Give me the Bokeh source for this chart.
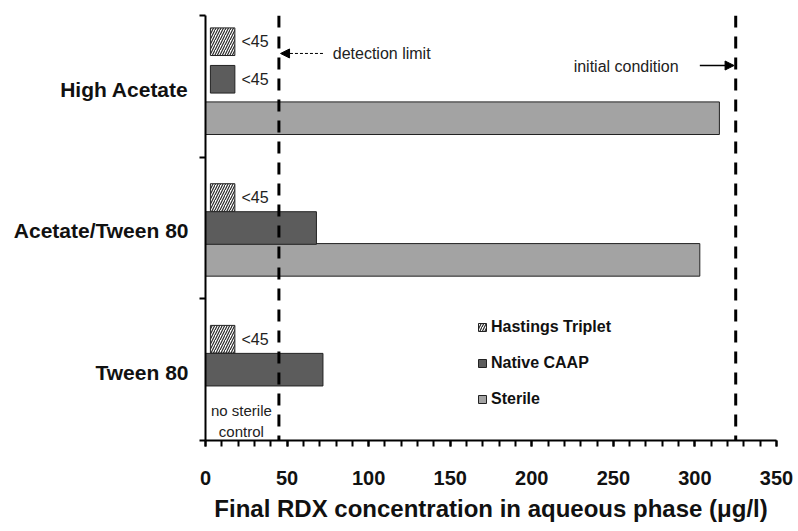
from bokeh.plotting import figure
from bokeh.models import (ColumnDataSource, Span, Arrow, NormalHead, Label, Legend,
                          LegendItem, FixedTicker, SingleIntervalTicker)
from bokeh.core.properties import value
from bokeh.embed import file_html
from bokeh.resources import INLINE

# ---------------- data ----------------
categories = ["Tween 80", "Acetate/Tween 80", "High Acetate"]
# None = below the detection limit (reported as "<45")
hastings_triplet = [None, None, None]
native_caap = [72, 68, None]
# None = no sterile control
sterile = [None, 303, 315]
detection_limit = 45
initial_condition = 325
x_ticks_step = 50
x_max = 350

# ---------------- style / layout ----------------
FONT = "Liberation Sans"
BAR_H = 0.23
BOX_H = 0.195
SLOT = {"sterile": 0.275, "native": 0.50, "hastings": 0.715}
NUDGE = {"native": [0, 0, 0.05], "hastings": [0, 0, 0.10]}
BOX_X0, BOX_X1 = 3, 18
C_STERILE = "#a3a3a3"
C_NATIVE = "#5c5c5c"
C_EDGE = "#222222"

p = figure(width=793, height=530, x_range=(0, x_max), y_range=(0, len(categories)),
           output_backend="svg", toolbar_location=None,
           min_border_left=205, min_border_right=17, min_border_top=15, min_border_bottom=90)
p.outline_line_color = None
p.xgrid.visible = False
p.ygrid.visible = False
p.background_fill_color = "white"


def series_geometry(vals, key):
    left, right, bottom, top, tx, ty, tt = [], [], [], [], [], [], []
    for i, v in enumerate(vals):
        c = i + SLOT[key] + NUDGE.get(key, [0, 0, 0])[i]
        if v is None:
            left.append(BOX_X0); right.append(BOX_X1)
            bottom.append(c - BOX_H / 2); top.append(c + BOX_H / 2)
            tx.append(BOX_X1 + 4); ty.append(c); tt.append(f"<{detection_limit}")
        else:
            left.append(0); right.append(v)
            bottom.append(c - BAR_H / 2); top.append(c + BAR_H / 2)
    bars = ColumnDataSource(dict(left=left, right=right, bottom=bottom, top=top))
    texts = ColumnDataSource(dict(x=tx, y=ty, text=tt))
    return bars, texts


# sterile bars
s_left, s_right, s_bottom, s_top = [], [], [], []
no_ctrl = []
for i, v in enumerate(sterile):
    c = i + SLOT["sterile"]
    if v is None:
        no_ctrl.append(i)
        continue
    s_left.append(0); s_right.append(v)
    s_bottom.append(c - BAR_H / 2); s_top.append(c + BAR_H / 2)
r_sterile = p.quad(left="left", right="right", bottom="bottom", top="top",
                   source=ColumnDataSource(dict(left=s_left, right=s_right, bottom=s_bottom, top=s_top)),
                   fill_color=C_STERILE, line_color=C_EDGE, line_width=1)

nat_bars, nat_txt = series_geometry(native_caap, "native")
r_native = p.quad(left="left", right="right", bottom="bottom", top="top", source=nat_bars,
                  fill_color=C_NATIVE, line_color=C_EDGE, line_width=1)

has_bars, has_txt = series_geometry(hastings_triplet, "hastings")
r_hast = p.quad(left="left", right="right", bottom="bottom", top="top", source=has_bars,
                fill_color="white", line_color=C_EDGE, line_width=1,
                hatch_pattern="/", hatch_color="#2a2a2a", hatch_scale=5, hatch_weight=1.2)

for src in (nat_txt, has_txt):
    p.text(x="x", y="y", text="text", source=src, text_font=value(FONT),
           text_font_size="16px", text_baseline="middle", text_align="left", text_color="#222222")

for i in no_ctrl:
    p.add_layout(Label(x=22, y=i + 0.14, text="no sterile\ncontrol", text_font=FONT,
                       text_font_size="15px", text_align="center", text_baseline="middle",
                       text_color="#222222", text_line_height=1.25))

# reference lines
for loc in (detection_limit, initial_condition):
    p.add_layout(Span(location=loc, dimension="height", line_color="black",
                      line_width=3, line_dash="12 9"))

top_cat = len(categories) - 1
p.add_layout(Arrow(end=NormalHead(size=9, fill_color="black", line_color="black"),
                   x_start=detection_limit + 27, y_start=top_cat + 0.732,
                   x_end=detection_limit + 1, y_end=top_cat + 0.732,
                   line_color="black", line_width=1, line_dash="3 2"))
p.add_layout(Label(x=detection_limit + 33, y=top_cat + 0.732, text="detection limit",
                   text_font=FONT, text_font_size="16px", text_baseline="middle",
                   text_color="#222222"))
p.add_layout(Arrow(end=NormalHead(size=9, fill_color="black", line_color="black"),
                   x_start=initial_condition - 22, y_start=top_cat + 0.647,
                   x_end=initial_condition - 1, y_end=top_cat + 0.647,
                   line_color="black", line_width=1.3))
p.add_layout(Label(x=initial_condition - 35, y=top_cat + 0.64, text="initial condition",
                   text_font=FONT, text_font_size="16px", text_baseline="middle",
                   text_align="right", text_color="#222222"))

# axes
xa = p.xaxis[0]
xa.ticker = SingleIntervalTicker(interval=x_ticks_step, num_minor_ticks=5)
xa.axis_label = "Final RDX concentration in aqueous phase (\u03bcg/l)"
xa.axis_label_text_font = FONT
xa.axis_label_text_font_style = "bold"
xa.axis_label_text_font_size = "24px"
xa.axis_label_text_color = "#111111"
xa.axis_label_standoff = 7
xa.major_label_text_font = FONT
xa.major_label_text_font_style = "bold"
xa.major_label_text_font_size = "20px"
xa.major_label_text_color = "#111111"
xa.major_label_standoff = 24
xa.axis_line_width = 2
xa.major_tick_line_width = 2
xa.minor_tick_line_width = 2
xa.major_tick_out = 6
xa.major_tick_in = 0
xa.minor_tick_out = 6
xa.minor_tick_in = 0

ya = p.yaxis[0]
centers = [i + 0.48 for i in range(len(categories))]
ya.ticker = FixedTicker(ticks=centers, minor_ticks=list(range(len(categories) + 1)))
ya.major_label_overrides = {c: name for c, name in zip(centers, categories)}
ya.major_label_text_font = FONT
ya.major_label_text_font_style = "bold"
ya.major_label_text_font_size = "21px"
ya.major_label_text_color = "#111111"
ya.major_label_standoff = 11
ya.axis_line_width = 2
ya.major_tick_out = 0
ya.major_tick_in = 0
ya.minor_tick_line_width = 2
ya.minor_tick_out = 6
ya.minor_tick_in = 0

legend = Legend(items=[LegendItem(label="Hastings Triplet", renderers=[r_hast]),
                       LegendItem(label="Native CAAP", renderers=[r_native]),
                       LegendItem(label="Sterile", renderers=[r_sterile])],
                location=(272, 31), orientation="vertical",
                glyph_width=10, glyph_height=10, label_height=20, spacing=16,
                label_standoff=4, padding=0, margin=0,
                border_line_color=None, background_fill_alpha=0,
                label_text_font=FONT, label_text_font_style="bold",
                label_text_font_size="16px", label_text_color="#111111")
p.add_layout(legend)

open("out.html", "w").write(file_html(p, INLINE))
